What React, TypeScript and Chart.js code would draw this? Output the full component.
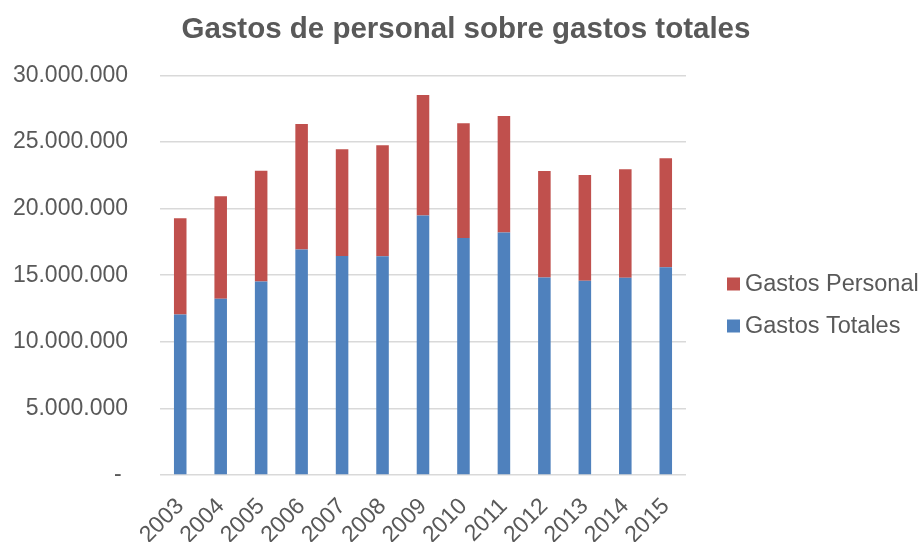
import React, { useEffect, useRef } from "react";
import { Chart, registerables } from "chart.js";

Chart.register(...registerables);

const years = ["2003", "2004", "2005", "2006", "2007", "2008", "2009", "2010", "2011", "2012", "2013", "2014", "2015"];
const gastosTotales = [12050000, 13230000, 14530000, 16930000, 16450000, 16430000, 19480000, 17800000, 18200000, 14830000, 14580000, 14800000, 15600000];
const gastosPersonal = [7220000, 7700000, 8320000, 9420000, 8000000, 8320000, 9050000, 8600000, 8750000, 8000000, 7950000, 8150000, 8180000];

const FONT = "'Liberation Sans', Arial, sans-serif";
const GREY = "#595959";

function fmt(v: number): string {
  if (v === 0) return "- ";
  return Math.round(v).toString().replace(/\B(?=(\d{3})+(?!\d))/g, ".");
}

// Legend drawn to the right of the plot, items in reverse dataset order (like Excel)
const sideLegend = {
  id: "sideLegend",
  afterDraw(chart: any) {
    const { ctx, chartArea } = chart;
    const items = chart.data.datasets.map((d: any) => ({ label: d.label, color: d.backgroundColor })).reverse();
    const x0 = chartArea.right + 41;
    const yStart = 284;
    const step = 42;
    ctx.save();
    ctx.font = `23.5px ${FONT}`;
    ctx.textBaseline = "middle";
    ctx.textAlign = "left";
    items.forEach((it: any, i: number) => {
      const cy = yStart + i * step;
      ctx.fillStyle = it.color;
      ctx.fillRect(x0, cy - 6.5, 13, 13);
      ctx.fillStyle = GREY;
      ctx.fillText(it.label, x0 + 18, cy + 1);
    });
    ctx.restore();
  },
};

export default function App() {
  const ref = useRef<HTMLCanvasElement | null>(null);
  useEffect(() => {
    if (!ref.current) return;
    const chart = new Chart(ref.current, {
      type: "bar",
      data: {
        labels: years,
        datasets: [
          { label: "Gastos Totales", data: gastosTotales, backgroundColor: "#4F81BD", barPercentage: 0.31, categoryPercentage: 1 },
          { label: "Gastos Personal", data: gastosPersonal, backgroundColor: "#C0504D", barPercentage: 0.31, categoryPercentage: 1 },
        ],
      },
      options: {
        responsive: false,
        animation: false,
        layout: { padding: { left: 12, right: 4, top: 0, bottom: 0 } },
        plugins: {
          title: {
            display: true,
            text: "Gastos de personal sobre gastos totales",
            color: GREY,
            font: { family: FONT, size: 29.5, weight: "bold" },
            padding: { top: 12, bottom: 28 },
          },
          legend: { display: false },
          tooltip: { enabled: false },
        },
        scales: {
          x: {
            stacked: true,
            grid: { display: false },
            border: { display: false },
            ticks: {
              color: GREY,
              font: { family: FONT, size: 23 },
              minRotation: 45,
              maxRotation: 45,
              autoSkip: false,
              padding: 10,
            },
            afterFit: (s: any) => { s.height = 67; },
          },
          y: {
            stacked: true,
            min: 0,
            max: 30000000,
            grid: { color: "#d9d9d9", lineWidth: 1.5, drawTicks: false },
            border: { display: false },
            ticks: {
              stepSize: 5000000,
              color: GREY,
              font: { family: FONT, size: 23 },
              padding: 32,
              callback: (v: any) => fmt(Number(v)),
            },
            afterFit: (s: any) => { s.width = 148; },
          },
          // empty right-hand axis: reserves the room where the legend sits
          legendSpace: {
            type: "linear",
            position: "right",
            display: true,
            grid: { display: false },
            border: { display: false },
            ticks: { display: false },
            afterFit: (s: any) => { s.width = 234; },
          },
        },
      },
      plugins: [sideLegend],
    });
    return () => chart.destroy();
  }, []);
  return (
    <div style={{ position: "absolute", left: 0, top: 0, width: 924, height: 542 }}>
      <canvas ref={ref} width={924} height={542} style={{ display: "block" }} />
    </div>
  );
}
